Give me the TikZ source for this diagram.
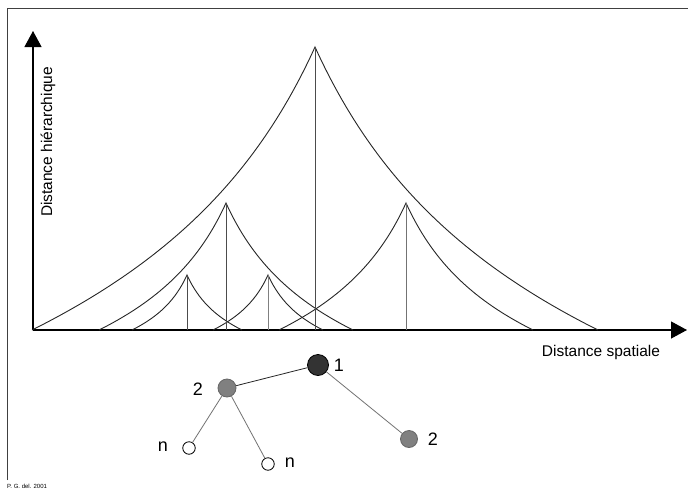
\documentclass[tikz,border=0pt]{standalone}
\usepackage{fontspec}
\setmainfont{Liberation Sans}
\usetikzlibrary{arrows.meta}
\newcommand{\cuspcurve}[3]{%
  \draw[curve] ({#1-#3},{#2+#3}) .. controls ({#1-0.5*#3},{#2+0.75*#3}) and ({#1-0.2*#3},{#2+0.44*#3}) .. (#1,#2)
     .. controls ({#1+0.2*#3},{#2+0.44*#3}) and ({#1+0.5*#3},{#2+0.75*#3}) .. ({#1+#3},{#2+#3});}
\tikzset{
  axis/.style={line width=1.2pt, -{Triangle[length=16pt,width=17pt]}},
  curve/.style={line width=0.9pt, draw=black!85},
  stem/.style={line width=0.8pt, draw=black!70},
  frame/.style={line width=0.9pt, draw=black!75},
  label/.style={font=\fontsize{15.5}{18}\selectfont, inner sep=0pt},
  num/.style={font=\fontsize{18}{21}\selectfont, inner sep=0pt},
  dot/.style={circle, draw=black, line width=0.8pt, inner sep=0pt},
  link/.style={line width=0.8pt, draw=black!55},
}
\begin{document}
\begin{tikzpicture}[x=1pt,y=-1pt]
\useasboundingbox (0,0) rectangle (688,490);
\fill[white] (0,0) rectangle (688,490);
% frame
\draw[frame] (7,480) -- (7,8) -- (688,8);
% axes
\coordinate (O) at (33,330);
\coordinate (ytip) at (33,31);
\coordinate (xtip) at (687,330);
\draw[axis] (O) -- (ytip);
\draw[axis] (O) -- (xtip);
% cusp curves
\cuspcurve{315}{47}{283}
\cuspcurve{226}{203}{127}
\cuspcurve{406}{203}{127}
\cuspcurve{187}{275}{55}
\cuspcurve{268}{275}{55}
% stems
\draw[stem] (315,47) -- (315,330);
\draw[stem] (226,203) -- (226,330);
\draw[stem, draw=black!55] (406,203) -- (406,330);
\draw[stem] (187,275) -- (187,330);
\draw[stem, draw=black!50] (268,275) -- (268,330);
% axis labels
\node[label, rotate=90] (ylab) at (48,142) {Distance hiérarchique};
\node[label] (xlab) at (601,352) {Distance spatiale};
% tree
\node[dot, minimum size=21pt, fill=black!80] (n1) at (318,365) {};
\node[dot, minimum size=18pt, fill=black!50, draw=black!60] (n2a) at (227,388) {};
\node[dot, minimum size=17pt, fill=black!50, draw=black!60] (n2b) at (409,439) {};
\node[dot, minimum size=12.5pt, fill=white] (nna) at (189,448) {};
\node[dot, minimum size=12.5pt, fill=white] (nnb) at (268,464) {};
\draw[link, draw=black!85] (n1) -- (n2a);
\draw[link] (n1) -- (n2b);
\draw[link] (n2a) -- (nna);
\draw[link] (n2a) -- (nnb);
\node[num] (l1) at (339,365) {1};
\node[num] (l2a) at (198,389) {2};
\node[num] (l2b) at (433,439) {2};
\node[num] (lna) at (163,447) {n};
\node[num] (lnb) at (290,463) {n};
% credit
\node[font=\fontsize{6}{7}\selectfont, anchor=west, inner sep=0pt] (credit) at (7,486) {P. G. del. 2001};
\end{tikzpicture}
\end{document}
